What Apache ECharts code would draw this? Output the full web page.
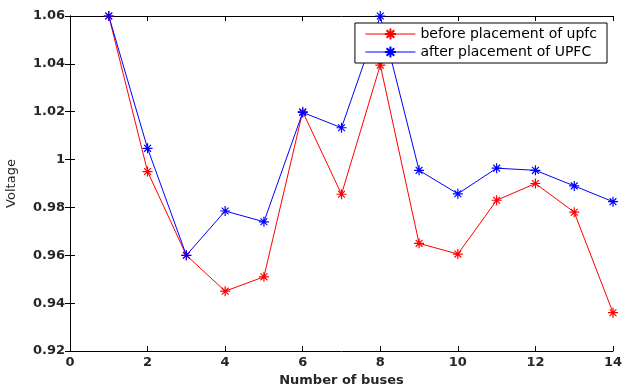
<!DOCTYPE html>
<html>
<head>
<meta charset="utf-8">
<script src="https://cdn.jsdelivr.net/npm/echarts@6/dist/echarts.min.js"></script>
<style>html,body{margin:0;padding:0;background:#fff}#c{width:622px;height:389px}</style>
</head>
<body>
<div id="c"></div>
<script>
const buses = [1,2,3,4,5,6,7,8,9,10,11,12,13,14];
const beforeUPFC = [1.060,0.995,0.960,0.945,0.951,1.020,0.9855,1.0395,0.965,0.9605,0.983,0.990,0.978,0.936];
const afterUPFC  = [1.060,1.0047,0.960,0.9785,0.974,1.0197,1.0133,1.060,0.9955,0.9857,0.9964,0.9955,0.989,0.9824];
const seriesNames = ['before placement of upfc','after placement of UPFC'];
const xTicks = {min:0,max:14,interval:2};
const yTicks = {min:0.92,max:1.06,interval:0.02};

const star = 'path://M5,0L5,10M0,5L10,5M1.6,1.6L8.4,8.4M1.6,8.4L8.4,1.6';
const font = 'DejaVu Sans';
const fmtY = v => String(parseFloat(v.toFixed(2)));

function mkSeries(name, vals, color){
  return {
    name, type:'line', data: buses.map((b,i)=>[b, vals[i]]),
    symbol: star, symbolSize: 10, showSymbol:true,
    lineStyle:{color, width:1},
    itemStyle:{color:'rgba(0,0,0,0)', borderColor:color, borderWidth:1.2},
    emphasis:{disabled:true}, animation:false
  };
}
const chart = echarts.init(document.getElementById('c'));
chart.setOption({
  backgroundColor:'#fff',
  animation:false,
  grid:{left:70,right:9,top:16,bottom:38,containLabel:false,outerBoundsMode:'none'},
  legend:{
    orient:'vertical', right:15, top:23,
    backgroundColor:'#fff', borderColor:'#000', borderWidth:1,
    padding:[4,10,4,10], itemWidth:50, itemHeight:14, itemGap:4,
    lineStyle:{width:1},
    textStyle:{fontFamily:font, fontSize:14, color:'#000'},
    data: seriesNames
  },
  xAxis:[{
    type:'value', min:xTicks.min, max:xTicks.max, interval:xTicks.interval,
    name:'Number of buses', nameLocation:'middle', nameGap:23,
    nameTextStyle:{fontFamily:font, fontSize:13, fontWeight:'bold', color:'#262626'},
    axisLine:{show:true, lineStyle:{color:'#000', width:1}},
    axisTick:{show:true, inside:true, length:5, lineStyle:{color:'#000'}},
    axisLabel:{fontFamily:font, fontSize:13, fontWeight:'bold', color:'#262626', margin:5},
    splitLine:{show:false}
  },{
    type:'value', position:'top', min:xTicks.min, max:xTicks.max, interval:xTicks.interval,
    axisLine:{show:true, lineStyle:{color:'#000', width:1}},
    axisTick:{show:true, inside:true, length:5, lineStyle:{color:'#000'}},
    axisLabel:{show:false}, splitLine:{show:false}
  }],
  yAxis:[{
    type:'value', min:yTicks.min, max:yTicks.max, interval:yTicks.interval,
    name:'Voltage', nameLocation:'middle', nameGap:52, nameRotate:90,
    nameTextStyle:{fontFamily:font, fontSize:13, color:'#262626'},
    axisLine:{show:true, lineStyle:{color:'#000', width:1}},
    axisTick:{show:true, inside:true, length:5, lineStyle:{color:'#000'}},
    axisLabel:{fontFamily:font, fontSize:13, fontWeight:'bold', color:'#262626', margin:5, formatter:fmtY},
    splitLine:{show:false}
  },{
    type:'value', position:'right', min:yTicks.min, max:yTicks.max, interval:yTicks.interval,
    axisLine:{show:true, lineStyle:{color:'#000', width:1}},
    axisTick:{show:true, inside:true, length:5, lineStyle:{color:'#000'}},
    axisLabel:{show:false}, splitLine:{show:false}
  }],
  series:[
    mkSeries(seriesNames[0], beforeUPFC, '#ff0000'),
    mkSeries(seriesNames[1], afterUPFC, '#0000ff')
  ]
});
</script>
</body>
</html>
